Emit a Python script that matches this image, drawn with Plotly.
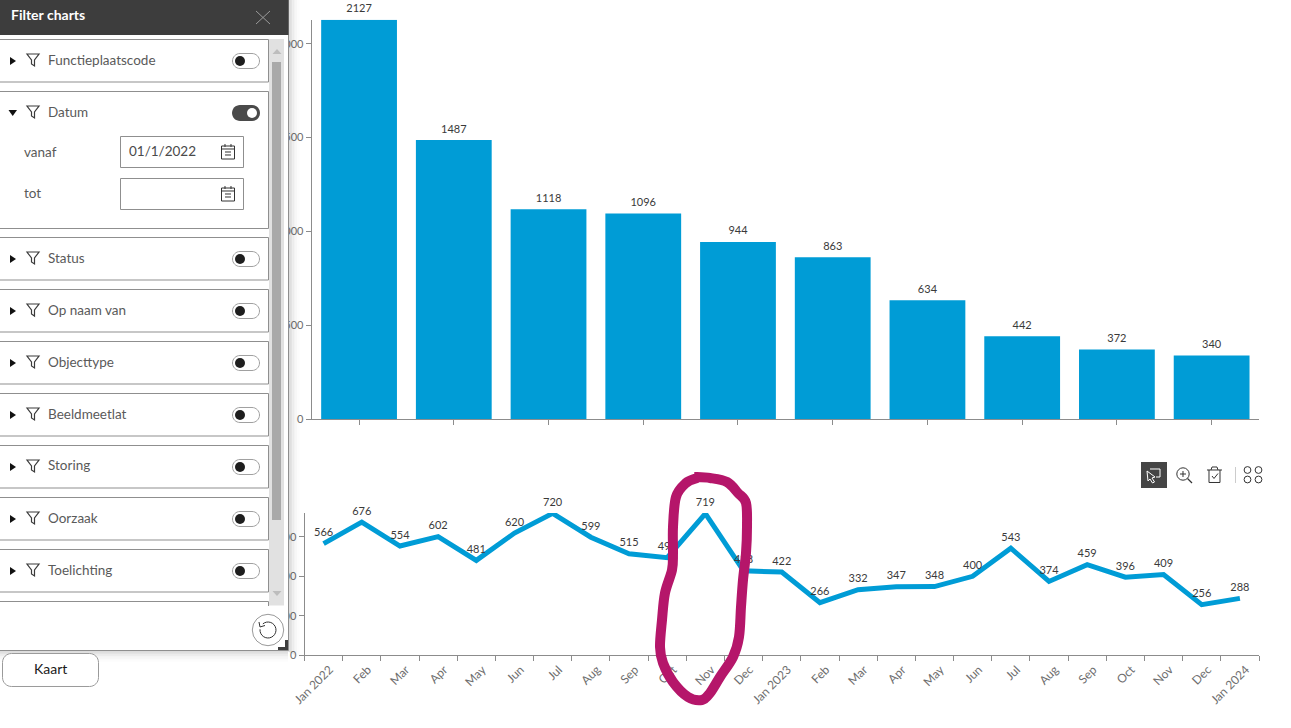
import math
import plotly.graph_objects as go

W, H = 1291, 728

# ---- data ----
bar_categories = ["Cat 1", "Cat 2", "Cat 3", "Cat 4", "Cat 5", "Cat 6", "Cat 7", "Cat 8", "Cat 9", "Cat 10"]
bar_values = [2127, 1487, 1118, 1096, 944, 863, 634, 442, 372, 340]
months = ["2022-01", "2022-02", "2022-03", "2022-04", "2022-05", "2022-06", "2022-07", "2022-08", "2022-09",
          "2022-10", "2022-11", "2022-12", "2023-01", "2023-02", "2023-03", "2023-04", "2023-05", "2023-06",
          "2023-07", "2023-08", "2023-09", "2023-10", "2023-11", "2023-12", "2024-01"]
month_labels = ["Jan 2022", "Feb", "Mar", "Apr", "May", "Jun", "Jul", "Aug", "Sep", "Oct", "Nov", "Dec",
                "Jan 2023", "Feb", "Mar", "Apr", "May", "Jun", "Jul", "Aug", "Sep", "Oct", "Nov", "Dec",
                "Jan 2024"]
line_values = [566, 676, 554, 602, 481, 620, 720, 599, 515, 495, 719, 428,
               422, 266, 332, 347, 348, 400, 543, 374, 459, 396, 409, 256, 288]
filter_rows = ["Functieplaatscode", "Datum", "Status", "Op naam van", "Objecttype",
               "Beeldmeetlat", "Storing", "Oorzaak", "Toelichting"]
filter_centres = [61, 113, 259, 311, 363, 415, 467, 519, 571]

BLUE = "#009cd6"
AXIS = "#8c8c8c"
TICK = "#6e6e6e"
LABEL = "#3a3a3a"
FONT = "Lato, 'Open Sans', sans-serif"
DARK = "#3d3d3d"
MID = "#8f8f8f"


def X(p):
    return p / W


def Y(p):
    return 1 - p / H


def P(d):
    """Build an SVG path in paper coordinates from [cmd, (x, y), ...] given in page pixels."""
    out = []
    for item in d:
        if isinstance(item, str):
            out.append(item)
        else:
            out.append(f"{X(item[0]):.5f},{Y(item[1]):.5f}")
    return " ".join(out)


shapes = []
annotations = []


def rect(x0, y0, x1, y1, fill="rgba(0,0,0,0)", line=None, lw=1):
    shapes.append(dict(type="rect", xref="paper", yref="paper", x0=X(x0), x1=X(x1), y0=Y(y0), y1=Y(y1),
                       fillcolor=fill, line=dict(color=line or "rgba(0,0,0,0)", width=lw if line else 0),
                       layer="above"))


def path(pts, stroke=None, lw=1, fill=None, close=False):
    d = []
    for i, p in enumerate(pts):
        d += ["M" if i == 0 else "L", p]
    if close:
        d.append("Z")
    shapes.append(dict(type="path", xref="paper", yref="paper", path=P(d),
                       fillcolor=fill or "rgba(0,0,0,0)",
                       line=dict(color=stroke or "rgba(0,0,0,0)", width=lw if stroke else 0), layer="above"))


def circle(cx, cy, r, fill="rgba(0,0,0,0)", line=None, lw=1):
    shapes.append(dict(type="circle", xref="paper", yref="paper", x0=X(cx - r), x1=X(cx + r), y0=Y(cy - r),
                       y1=Y(cy + r), fillcolor=fill,
                       line=dict(color=line or "rgba(0,0,0,0)", width=lw if line else 0), layer="above"))


def pill(x0, y0, x1, y1, r, fill, line=None, lw=1):
    k = r * 0.55
    d = ["M", (x0 + r, y0), "L", (x1 - r, y0), "C", (x1 - r + k, y0), (x1, y0 + r - k), (x1, y0 + r),
         "L", (x1, y1 - r), "C", (x1, y1 - r + k), (x1 - r + k, y1), (x1 - r, y1),
         "L", (x0 + r, y1), "C", (x0 + r - k, y1), (x0, y1 - r + k), (x0, y1 - r),
         "L", (x0, y0 + r), "C", (x0, y0 + r - k), (x0 + r - k, y0), (x0 + r, y0), "Z"]
    shapes.append(dict(type="path", xref="paper", yref="paper", path=P(d), fillcolor=fill,
                       line=dict(color=line or "rgba(0,0,0,0)", width=lw if line else 0), layer="above"))


def text(x, y, s, size=13.5, color="#5a5a5a", anchor="left", bold=False):
    annotations.append(dict(xref="paper", yref="paper", x=X(x), y=Y(y), text=f"<b>{s}</b>" if bold else s,
                            showarrow=False, xanchor=anchor, yanchor="middle", xshift=-2 if anchor == "left" else 0,
                            font=dict(family=FONT, size=size, color=color)))


def catmull(pts):
    d = ["M", pts[0]]
    n = len(pts)
    for i in range(n - 1):
        p0 = pts[max(i - 1, 0)]
        p1 = pts[i]
        p2 = pts[i + 1]
        p3 = pts[min(i + 2, n - 1)]
        c1 = (p1[0] + (p2[0] - p0[0]) / 6, p1[1] + (p2[1] - p0[1]) / 6)
        c2 = (p2[0] - (p3[0] - p1[0]) / 6, p2[1] - (p3[1] - p1[1]) / 6)
        d += ["C", c1, c2, p2]
    return d


# ---- filter panel ----
for i, a in enumerate([0.10, 0.07, 0.05, 0.035, 0.02, 0.012, 0.006]):
    rect(288 + i * 1.6, 0, 289 + i * 1.6 + 1.6, 652 + i, fill=f"rgba(0,0,0,{a})")
    rect(0, 650 + i * 1.6, 288, 651 + i * 1.6 + 1.6, fill=f"rgba(0,0,0,{a})")
rect(-2, -2, 288.5, 650.5, fill="#ffffff", line=MID)
rect(-2, -2, 288.5, 35, fill=DARK)
text(11, 14.5, "Filter charts", size=14, color="#ffffff", bold=True)
path([(256, 11), (270, 24)], stroke="#9a9a9a")
path([(270, 11), (256, 24)], stroke="#9a9a9a")

# cards
card_spans = [(39.5, 82), (91.5, 228.5), (237.5, 280), (289.5, 332), (341.5, 384), (393.5, 436),
              (445.5, 488), (497.5, 540), (549.5, 592)]
for (y0, y1) in card_spans:
    rect(-3, y0, 268.5, y1, fill="#ffffff", line=MID)
path([(-3, 601.5), (268.5, 601.5), (268.5, 606)], stroke=MID)

for name, cy in zip(filter_rows, filter_centres):
    on = name == "Datum"
    if on:
        path([(8.5, cy - 3), (17, cy - 3), (12.7, cy + 3)], fill="#111111", close=True)
    else:
        path([(10, cy - 4), (16, cy), (10, cy + 4)], fill="#111111", close=True)
    # funnel
    fy = cy - 7
    path([(27, fy), (39, fy), (34.5, fy + 6), (34.5, fy + 12), (31.5, fy + 10), (31.5, fy + 6)],
         stroke="#3a3a3a", lw=1.2, close=True)
    text(48, cy - 1.5, name)
    if on:
        pill(232, cy - 8, 260, cy + 8, 8, "#4a4a4a")
        circle(252, cy, 5, fill="#ffffff")
    else:
        pill(232.5, cy - 7.5, 259.5, cy + 7.5, 7.5, "#ffffff", line="#a0a0a0")
        circle(240, cy, 5, fill="#1e1e1e")

# date inputs
text(24, 151.5, "vanaf")
text(24, 193.5, "tot")
rect(120.5, 136.5, 243.5, 167.5, fill="#ffffff", line=MID)
rect(120.5, 178.5, 243.5, 209.5, fill="#ffffff", line=MID)
text(129, 151, "01/1/2022", size=13.5, color="#4a4a4a")
for cy in (152, 194):
    rect(221.5, cy - 6, 234.5, cy + 7, line="#333333")
    path([(221.5, cy - 3), (234.5, cy - 3)], stroke="#333333")
    path([(225, cy - 8), (225, cy - 5)], stroke="#333333")
    path([(231, cy - 8), (231, cy - 5)], stroke="#333333")
    path([(225, cy), (231, cy)], stroke="#333333")
    path([(225, cy + 3), (231, cy + 3)], stroke="#333333")

# scrollbar
rect(269, 39, 284, 605.5, fill="#e1e1e1")
rect(272, 62, 281, 520, fill="#a9a9a9")
path([(272.5, 54), (281.5, 54), (277, 49)], fill="#bdbdbd", close=True)
path([(272.5, 591), (281.5, 591), (277, 596)], fill="#bdbdbd", close=True)

# reset button
circle(268, 630, 15.7, fill="#ffffff", line="#9a9a9a")
arc = [(268 + 8 * math.cos(math.radians(a)), 630 + 8 * math.sin(math.radians(a))) for a in range(-130, 200, 15)]
path(arc, stroke="#333333")
path([(259, 622), (260, 627), (265, 625.5)], stroke="#333333")

# resize corner
path([(285, 640), (288, 640), (288, 650), (278, 650), (278, 647), (285, 647)], fill=DARK, close=True)

# Kaart button
pill(2.5, 653.5, 98.5, 686.5, 9, "#ffffff", line="#9a9a9a")
text(50.5, 668.5, "Kaart", size=14, color="#1a1a1a", anchor="center", bold=False)

# ---- chart toolbar ----
rect(1141, 462, 1167, 488, fill="#454545")
path([(1150, 469), (1160, 469), (1160, 477), (1156, 477)], stroke="#ffffff")
path([(1147, 471), (1155, 477), (1152, 478), (1154.5, 482), (1152.5, 483), (1150, 479), (1148, 481)],
     stroke="#ffffff", close=True)
circle(1183, 474, 6.2, line="#333333")
path([(1187.5, 478.5), (1192, 483)], stroke="#333333", lw=1.3)
path([(1180, 474), (1186, 474)], stroke="#333333")
path([(1183, 471), (1183, 477)], stroke="#333333")
path([(1207, 470), (1222, 470)], stroke="#333333")
path([(1211, 470), (1212, 467), (1217, 467), (1218, 470)], stroke="#333333")
path([(1209, 470), (1209, 482.5), (1220, 482.5), (1220, 470)], stroke="#333333")
path([(1212, 476), (1214, 478.5), (1218, 473.5)], stroke="#333333")
path([(1235.5, 467), (1235.5, 483)], stroke="#cccccc")
for cx in (1247.5, 1258.5):
    for cy in (470, 479.5):
        circle(cx, cy, 3.4, line="#333333")

# ---- hand-drawn highlight ----
doodle = [(694, 477), (710, 478), (727, 482), (738, 493), (746, 503), (747, 527), (746, 553), (743, 580),
          (741, 607), (739, 637), (733, 657), (720, 677), (710, 693), (702, 700), (688, 697), (673, 682),
          (663, 663), (660, 647), (662, 620), (665, 593), (672, 570), (673, 553), (673, 527), (676, 497),
          (686, 483), (697, 478)]
shapes.append(dict(type="path", xref="paper", yref="paper", path=P(catmull(doodle)),
                   fillcolor="rgba(0,0,0,0)", line=dict(color="#b5166a", width=10), layer="above"))

# ---- figure ----
fig = go.Figure()
fig.add_trace(go.Bar(x=bar_categories, y=bar_values, marker=dict(color=BLUE, line=dict(width=0)),
                     width=0.8, xaxis="x", yaxis="y"))
fig.add_trace(go.Scatter(x=bar_categories, y=bar_values, mode="text+markers", marker=dict(size=6, opacity=0),
                         text=bar_values, textposition="top center", cliponaxis=False,
                         textfont=dict(family=FONT, size=11, color=LABEL), xaxis="x", yaxis="y"))
fig.add_trace(go.Scatter(x=months, y=line_values, mode="lines", line=dict(color=BLUE, width=5),
                         xaxis="x2", yaxis="y2"))
fig.add_trace(go.Scatter(x=months, y=line_values, mode="text+markers", marker=dict(size=6, opacity=0),
                         text=line_values, textposition="top center", cliponaxis=False,
                         textfont=dict(family=FONT, size=11, color=LABEL), xaxis="x2", yaxis="y2"))

axis_common = dict(showgrid=False, zeroline=False, showline=True, linecolor=AXIS, linewidth=1, automargin=False,
                   ticks="outside", ticklen=5, tickcolor=AXIS, tickwidth=1)
tick_font = dict(family=FONT, size=11, color=TICK)

fig.update_layout(
    width=W, height=H, autosize=False, margin=dict(l=0, r=0, t=0, b=0),
    paper_bgcolor="#ffffff", plot_bgcolor="#ffffff", showlegend=False, hovermode=False,
    xaxis=dict(domain=[X(311.7), X(1259)], anchor="y", showticklabels=False, range=[-0.5, 9.5], **axis_common),
    yaxis=dict(domain=[Y(419.3), Y(19.8)], anchor="x", range=[0, 2127], tickvals=[0, 500, 1000, 1500, 2000],
               tickfont=tick_font, **axis_common),
    xaxis2=dict(domain=[X(304.5), X(1259)], anchor="y2", type="category", tickangle=-45,
                tickfont=dict(family=FONT, size=12, color=TICK), ticklabelshift=6, ticklabelstandoff=2,
                range=[-0.5, 24.5], tickson="boundaries", tickmode="array", tickvals=months, ticktext=month_labels,
                **axis_common),
    yaxis2=dict(domain=[Y(655), Y(513)], anchor="x2", range=[0, 722], tickvals=[0, 200, 400, 600],
                tickfont=tick_font, **axis_common),
    shapes=shapes, annotations=annotations,
)

fig.write_html("out.html", config=dict(displayModeBar=False, responsive=False),
               post_script="document.body.style.margin='0';document.documentElement.style.overflow='hidden';")
